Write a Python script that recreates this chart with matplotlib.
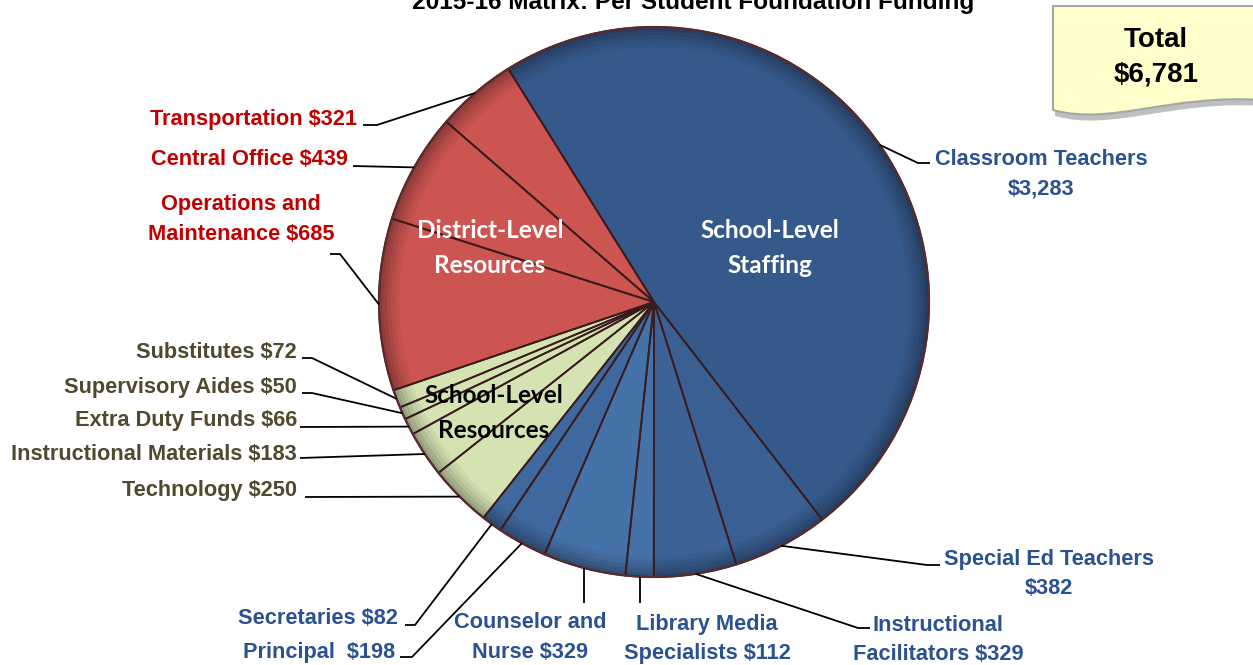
import matplotlib
matplotlib.use("Agg")
import matplotlib.pyplot as plt
import numpy as np
from matplotlib.path import Path
from matplotlib.patches import PathPatch

# 2015-16 per student foundation funding, clockwise from the top
categories = [
    "Classroom Teachers", "Special Ed Teachers", "Instructional Facilitators",
    "Library Media Specialists", "Counselor and Nurse", "Principal", "Secretaries",
    "Technology", "Instructional Materials", "Extra Duty Funds", "Supervisory Aides",
    "Substitutes", "Operations and Maintenance", "Central Office", "Transportation",
]
values = [3283, 382, 329, 112, 329, 198, 82, 250, 183, 66, 50, 72, 685, 439, 321]
label_texts = [
    "Classroom Teachers\n$3,283", "Special Ed Teachers\n$382", "Instructional\nFacilitators $329",
    "Library Media\nSpecialists $112", "Counselor and\nNurse $329", "Principal  $198", "Secretaries $82",
    "Technology $250", "Instructional Materials $183", "Extra Duty Funds $66", "Supervisory Aides $50",
    "Substitutes $72", "Operations and\nMaintenance $685", "Central Office $439", "Transportation $321",
]
groups = ["staff"] * 7 + ["school"] * 5 + ["district"] * 3
group_titles = {"staff": "School-Level\nStaffing", "district": "District-Level\nResources",
                "school": "School-Level\nResources"}
title = "2015-16 Matrix: Per Student Foundation Funding"
total_text = "Total\n$6,781"

W, H = 1253, 665
CX, CY, R = 654, 302, 275

slice_colors = ["#36598B", "#3A5F93", "#3C6296", "#4672AA", "#4672AA", "#3F689E", "#3F689E",
                "#D5E3B3", "#D5E3B3", "#D5E3B3", "#D5E3B3", "#D5E3B3",
                "#CC5451", "#CC5451", "#CC5451"]
text_colors = {"staff": "#2A5290", "school": "#4F492D", "district": "#C00000"}

# label layout: (x, y of first line centre, ha, leader elbow points from text side)
layout = [
    (1041, 157, "center", [(930, 163), (918, 163)]),
    (1049, 557, "center", [(940, 565), (927, 565)]),
    (938, 623, "center", [(870, 628), (858, 628)]),
    (707, 622, "center", "down"),
    (530, 620, "center", "down"),
    (395, 650, "right", [(400, 657), (412, 657)]),
    (398, 616, "right", [(405, 625), (415, 625)]),
    (297, 488, "right", [(305, 497)]),
    (297, 452, "right", [(300, 458)]),
    (297, 418, "right", [(300, 427)]),
    (297, 385, "right", [(302, 393), (312, 393)]),
    (297, 350, "right", [(302, 358), (312, 358)]),
    (241, 202, "center", [(330, 254), (340, 254)]),
    (348, 157, "right", [(353, 166)]),
    (357, 117, "right", [(363, 125), (377, 125)]),
]

plt.rcParams["font.family"] = ["Liberation Sans", "DejaVu Sans"]

fig = plt.figure(figsize=(W / 100, H / 100), dpi=100)
ax = fig.add_axes([0, 0, 1, 1])

# y axis points down, so counterclockwise in data is clockwise on screen
pie_kw = dict(startangle=-122, counterclock=True, center=(CX, CY))
base = np.array([matplotlib.colors.to_rgb(c) for c in slice_colors])
for rr, k in [(R, 0.70), (R - 4, 0.77), (R - 8, 0.84), (R - 12, 0.90), (R - 16, 0.95), (R - 20, 1.0)]:
    ax.pie(values, colors=np.clip(base * k, 0, 1), radius=rr, wedgeprops=dict(linewidth=0), **pie_kw)
wedges, _ = ax.pie(values, colors=["none"] * len(values), radius=R,
                   wedgeprops=dict(edgecolor="#3a1c1e", linewidth=1.3), **pie_kw)
ax.add_patch(plt.Circle((CX, CY), R, fill=False, edgecolor="#5a2a2c", linewidth=1.6))

ax.set_xlim(0, W)
ax.set_ylim(H, 0)
ax.set_aspect("auto")
ax.axis("off")

pitch = 29.5
for i, w in enumerate(wedges):
    mid = np.deg2rad((w.theta1 + w.theta2) / 2)
    anchor = (CX + R * np.cos(mid), CY + R * np.sin(mid))
    x, y, ha, elbow = layout[i]
    if elbow == "down":
        pts = [(anchor[0], 603), anchor]
    else:
        pts = list(elbow) + [anchor]
    ax.plot([p[0] for p in pts], [p[1] for p in pts], color="black", lw=1.3, solid_capstyle="butt")
    for k, line in enumerate(label_texts[i].split("\n")):
        ax.text(x, y + 8 + k * pitch, line, ha=ha, va="baseline", fontsize=15.7,
                fontweight="bold", color=text_colors[groups[i]])

# group titles inside the pie
inner = {"staff": (770, 238, "white"), "district": (490, 238, "white"), "school": (494, 403, "black")}
for g, (x, yb, c) in inner.items():
    for k, line in enumerate(group_titles[g].split("\n")):
        ax.text(x, yb + k * 35, line, ha="center", va="baseline", fontsize=17.5,
                fontweight="bold", color=c, family=["Lato", "DejaVu Sans"])

ax.text(693, 9, title, ha="center", va="baseline", fontsize=17.6, fontweight="bold", color="black")

# sticky note with the total
verts = [(1053, 6), (1262, 6), (1262, 100), (1170, 94), (1110, 126), (1053, 110), (1053, 6)]
codes = [Path.MOVETO, Path.LINETO, Path.LINETO, Path.CURVE4, Path.CURVE4, Path.CURVE4, Path.CLOSEPOLY]
shadow = Path([(vx + 2, vy + 6) for vx, vy in verts], codes)
ax.add_patch(PathPatch(shadow, facecolor="#8c8c8c", edgecolor="none", alpha=0.55))
ax.add_patch(PathPatch(Path(verts, codes), facecolor="#FFFFCC", edgecolor="#A6A6A6", linewidth=1.5))
for k, line in enumerate(total_text.split("\n")):
    ax.text(1156, 47 + k * 35, line, ha="center", va="baseline", fontsize=20,
            fontweight="bold", color="black")

fig.savefig("out.png", dpi=100)
